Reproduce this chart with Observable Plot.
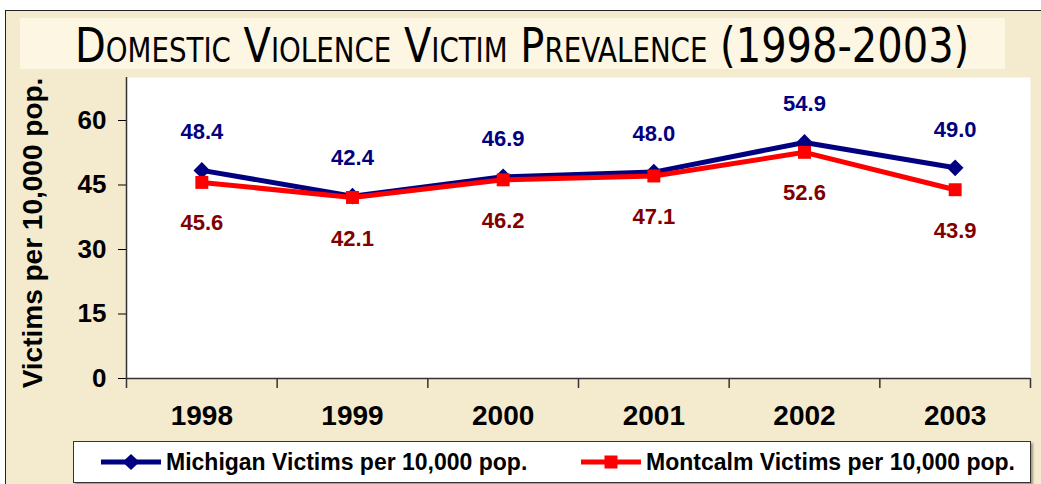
<!DOCTYPE html>
<html><head><meta charset="utf-8">
<script src="https://cdn.jsdelivr.net/npm/d3@7"></script>
<script src="https://cdn.jsdelivr.net/npm/@observablehq/plot@0.6"></script>
<style>
html,body{margin:0;padding:0;background:#fff;}
#wrap{position:relative;width:1041px;height:484px;overflow:hidden;background:#fff;font-family:"Liberation Sans",Arial,sans-serif;}
#bg{position:absolute;left:5px;top:10px;right:0;bottom:0;background:#f4eacd;border-top:1.5px solid #222;border-left:1.5px solid #222;}
#band{position:absolute;left:20px;top:18px;width:985px;height:51px;background:#fcf6e3;}
#chart{position:absolute;left:0;top:0;}
#titlesvg{position:absolute;left:0;top:0;}
#legend{position:absolute;left:73px;top:441px;width:956px;height:40px;background:#fff;border:1px solid #333;box-shadow:2px 2px 2px rgba(0,0,0,.35);}
.item{position:absolute;top:0;height:40px;display:flex;align-items:center;font-weight:bold;font-size:23px;color:#000;white-space:nowrap;}
.item svg{margin-right:5px;}
</style>
</head><body>
<div id="wrap">
  <div id="bg"></div>
  <div id="band"></div>
  <div id="chart"></div>
  <svg id="titlesvg" width="1041" height="80"></svg>
  <div id="legend"></div>
</div>
<script>
const years = [1998, 1999, 2000, 2001, 2002, 2003];
const michigan = [48.4, 42.4, 46.9, 48.0, 54.9, 49.0];
const montcalm = [45.6, 42.1, 46.2, 47.1, 52.6, 43.9];
const yTicks = [0, 15, 30, 45, 60];
const seriesNames = ["Michigan Victims per 10,000 pop.", "Montcalm Victims per 10,000 pop."];
const seriesColors = ["#000080", "#ff0000"];
const labelColors = ["#000080", "#800000"];
const yLabel = "Victims per 10,000 pop.";
const titleText = "Domestic Violence Victim Prevalence (1998-2003)";

const mi = years.map((y, i) => ({year: y, value: michigan[i]}));
const mo = years.map((y, i) => ({year: y, value: montcalm[i]}));
const bounds = [...years.map(y => y - 0.5), years[years.length - 1] + 0.5];
const fmt = d3.format(".1f");
const AX = "#333";

const plot = Plot.plot({
  width: 1041, height: 440,
  marginLeft: 126, marginRight: 11, marginTop: 77, marginBottom: 62,
  x: {domain: [bounds[0], bounds[bounds.length - 1]]},
  y: {domain: [0, 70]},
  style: {background: "transparent", fontFamily: "Liberation Sans, Arial, sans-serif", overflow: "visible"},
  marks: [
    Plot.frame({fill: "white", stroke: null}),
    Plot.axisY({ticks: yTicks, tickSize: 8, tickPadding: 12, fontSize: 26, fontWeight: "bold", color: "#000", label: null}),
    Plot.axisX({ticks: bounds, tickSize: 10, tickFormat: () => "", color: AX, strokeWidth: 1.5, label: null}),
    Plot.axisX({ticks: years, tickSize: 0, tickPadding: 27, tickFormat: d => String(d), fontSize: 28, fontWeight: "bold", color: "#000", label: null}),
    Plot.ruleY([0], {stroke: AX, strokeWidth: 1.5}),
    Plot.ruleX([bounds[0]], {stroke: AX, strokeWidth: 1.5}),
    Plot.line(mi, {x: "year", y: "value", stroke: seriesColors[0], strokeWidth: 5}),
    Plot.dot(mi, {x: "year", y: "value", symbol: "diamond2", r: 7.5, fill: seriesColors[0], stroke: null}),
    Plot.line(mo, {x: "year", y: "value", stroke: seriesColors[1], strokeWidth: 5}),
    Plot.dot(mo, {x: "year", y: "value", symbol: "square", r: 7.3, fill: seriesColors[1], stroke: null}),
    Plot.text(mi, {x: "year", y: "value", text: d => fmt(d.value), dy: -38, fill: labelColors[0], fontSize: 22, fontWeight: "bold", lineAnchor: "middle"}),
    Plot.text(mo, {x: "year", y: "value", text: d => fmt(d.value), dy: 41, fill: labelColors[1], fontSize: 22, fontWeight: "bold", lineAnchor: "middle"}),
    Plot.text([yLabel], {frameAnchor: "left", textAnchor: "middle", rotate: -90, dx: -93, dy: 5, fontSize: 28, fontWeight: "bold", fill: "#000", lineAnchor: "middle"})
  ]
});
document.getElementById("chart").appendChild(plot);

// Title (small caps, scaled horizontally to the reference width)
const titleEl = d3.select("#titlesvg").append("text")
  .attr("x", 0).attr("y", 0)
  .attr("font-family", "'Liberation Sans Narrow', 'DejaVu Sans Condensed', 'Liberation Sans', sans-serif")
  .attr("font-size", 48)
  .style("font-variant", "small-caps")
  .attr("fill", "#000")
  .text(titleText);
let natural = titleEl.node().getBBox().width || 903;
titleEl.attr("transform", `translate(75,62) scale(${906 / natural},1)`);

// Legend
const legend = document.getElementById("legend");
const itemLefts = [27, 507];
const symbols = ["diamond", "square"];
seriesNames.forEach((name, i) => {
  const div = document.createElement("div");
  div.className = "item";
  div.style.left = itemLefts[i] + "px";
  const sym = symbols[i] === "diamond"
    ? `<path d="M30,12 L38.5,20 L30,28 L21.5,20 Z" fill="${seriesColors[i]}"/>`
    : `<rect x="23.5" y="13.5" width="13" height="13" fill="${seriesColors[i]}"/>`;
  div.innerHTML = `<svg width="60" height="40"><line x1="0" x2="60" y1="20" y2="20" stroke="${seriesColors[i]}" stroke-width="5"/>${sym}</svg><span>${name}</span>`;
  legend.appendChild(div);
});
</script>
</body></html>
